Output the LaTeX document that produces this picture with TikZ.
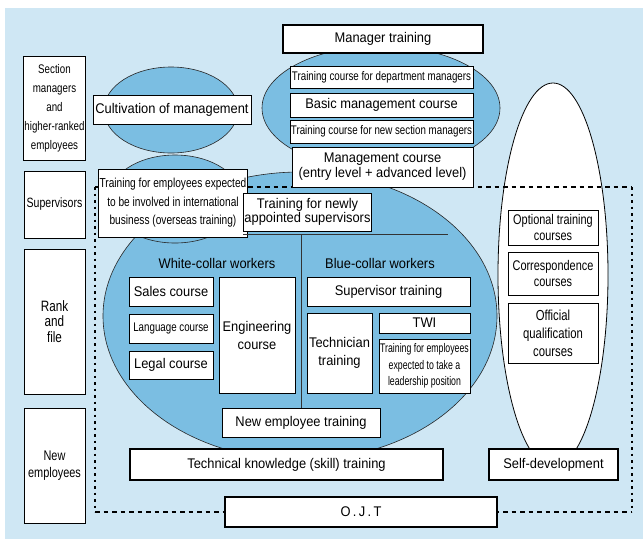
\documentclass[tikz,border=0pt]{standalone}
\usepackage{fontspec}
\setmainfont{Liberation Sans}[FakeStretch=0.92]
\newfontfamily\narrowfont{Liberation Sans}[FakeStretch=0.78]
\newfontfamily\xnarrowfont{Liberation Sans}[FakeStretch=0.70]
\usetikzlibrary{positioning}
\definecolor{bgblue}{RGB}{207,231,244}
\definecolor{ellblue}{RGB}{123,190,226}

\begin{document}
\begin{tikzpicture}[x=1pt,y=-1pt,
  box/.style={draw=black,fill=white,line width=0.8pt,inner sep=1pt,align=center,
              font=\fontsize{14}{15}\selectfont},
  thickbox/.style={box,line width=1.8pt},
  narrowbox/.style={box,font=\narrowfont\fontsize{12.5}{14}\selectfont},
  tinybox/.style={box,font=\xnarrowfont\fontsize{12.5}{16.3}\selectfont},
  blob/.style={draw=black!85,fill=ellblue,line width=0.6pt},
  grouplabel/.style={font=\fontsize{14}{15}\selectfont},
  ojtline/.style={line width=1.3pt,dash pattern=on 4.5pt off 4pt}]
  \useasboundingbox (0,0) rectangle (643,539);
  \fill[bgblue] (5,8) rectangle (643,539);

  % ellipses
  \draw[blob] (300,316) ellipse [x radius=197pt,y radius=144pt];
  \draw[blob] (175,199) ellipse [x radius=67pt,y radius=44pt];
  \draw[blob] (171,110) ellipse [x radius=67pt,y radius=43pt];
  \draw[blob] (381,108) ellipse [x radius=119pt,y radius=62pt];
  \draw[draw=black,fill=white,line width=0.8pt] (553,275) ellipse [x radius=55pt,y radius=192pt];

  % O.J.T frame
  \draw[ojtline] (95,187) -- (632,187);
  \draw[ojtline] (95,512) -- (632,512);
  \draw[ojtline,dash pattern=on 2.5pt off 4pt] (95,187) -- (95,512);
  \draw[ojtline,dash pattern=on 2.5pt off 4pt] (632,187) -- (632,512);

  % levels
  \node[narrowbox,minimum width=61pt,minimum height=104pt,font=\narrowfont\fontsize{12.5}{19}\selectfont]
    (secmgr) at (54.5,108) {Section\\managers\\and\\higher-ranked\\employees};
  \node[narrowbox,minimum width=61pt,minimum height=67pt,font=\narrowfont\fontsize{13.5}{15}\selectfont]
    (supv) at (54.5,204.5) {Supervisors};
  \node[box,minimum width=61pt,minimum height=145pt,font=\narrowfont\fontsize{15}{15.5}\selectfont]
    (rank) at (54.5,321.5) {Rank\\and\\file};
  \node[narrowbox,minimum width=61pt,minimum height=115pt,font=\narrowfont\fontsize{14}{17}\selectfont]
    (newcomer) at (54.5,465.5) {New\\employees};

  % manager training
  \node[thickbox,minimum width=200pt,minimum height=28pt] (mgr) at (383,39) {Manager training};
  \node[narrowbox,minimum width=183pt,minimum height=22pt] (deptmgr) at (381.5,77)
    {Training course for department managers};
  \node[box,minimum width=183pt,minimum height=24pt] (basic) at (381.5,105) {Basic management course};
  \node[narrowbox,minimum width=183pt,minimum height=23pt] (newsec) at (381.5,131.5)
    {Training course for new section managers};
  \node[box,minimum width=181pt,minimum height=40pt] (mgmt) at (382.5,167)
    {Management course\\(entry level + advanced level)};
  \node[box,minimum width=158pt,minimum height=29pt] (cult) at (172,109.5) {Cultivation of management};
  \node[narrowbox,minimum width=144pt,minimum height=68pt,font=\narrowfont\fontsize{13}{18.5}\selectfont]
    (intl) at (173,203) {Training for employees expected\\to be involved in international\\business (overseas training)};
  \node[box,minimum width=119pt,minimum height=38pt,font=\fontsize{14}{13.5}\selectfont]
    (newsup) at (307.5,212) {Training for newly\\appointed supervisors};

  % technical knowledge
  \node[grouplabel] (white) at (217,263) {White-collar workers};
  \node[grouplabel] (blue) at (380,263) {Blue-collar workers};
  \node[box,minimum width=84pt,minimum height=29pt] (sales) at (171,291.5) {Sales course};
  \node[narrowbox,minimum width=84pt,minimum height=29pt] (lang) at (171,328.5) {Language course};
  \node[box,minimum width=84pt,minimum height=28pt] (legal) at (171,365) {Legal course};
  \node[box,minimum width=76pt,minimum height=116pt,font=\fontsize{14}{18}\selectfont]
    (eng) at (257,335) {Engineering\\course};
  \node[box,minimum width=163pt,minimum height=29pt] (suptr) at (388.5,291.5) {Supervisor training};
  \node[box,minimum width=65pt,minimum height=80pt,font=\fontsize{14}{18.5}\selectfont]
    (tech) at (339.5,353) {Technician\\training};
  \node[box,minimum width=91pt,minimum height=20pt] (twi) at (424.5,323) {TWI};
  \node[tinybox,minimum width=91pt,minimum height=54pt] (lead) at (424.5,366)
    {Training for employees\\expected to take a\\leadership position};
  \node[box,minimum width=158pt,minimum height=29pt] (newemp) at (301,422.5) {New employee training};
  \coordinate (hl) at (448,234);
  \coordinate (divtop) at (newemp.north |- hl);
  \draw[line width=0.7pt,black!80] (newsup.south west |- hl) -- (hl);
  \draw[line width=0.7pt,black!80] (divtop) -- (newemp.north);
  \node[thickbox,minimum width=313pt,minimum height=31pt] (techk) at (286.5,464.5)
    {Technical knowledge (skill) training};

  % self-development
  \node[narrowbox,minimum width=90pt,minimum height=35pt,font=\narrowfont\fontsize{14}{16.5}\selectfont]
    (opt) at (553,227.5) {Optional training\\courses};
  \node[narrowbox,minimum width=90pt,minimum height=43pt,font=\narrowfont\fontsize{14}{16.5}\selectfont]
    (corr) at (553,273.5) {Correspondence\\courses};
  \node[narrowbox,minimum width=90pt,minimum height=60pt,font=\narrowfont\fontsize{14.5}{18}\selectfont]
    (offq) at (553,333) {Official\\qualification\\courses};
  \node[thickbox,minimum width=129pt,minimum height=31pt] (selfdev) at (553.5,464.5) {Self-development};

  \node[thickbox,minimum width=272pt,minimum height=30pt] (ojt) at (361,512) {O\,.\,J\,.\,T};
\end{tikzpicture}
\end{document}
